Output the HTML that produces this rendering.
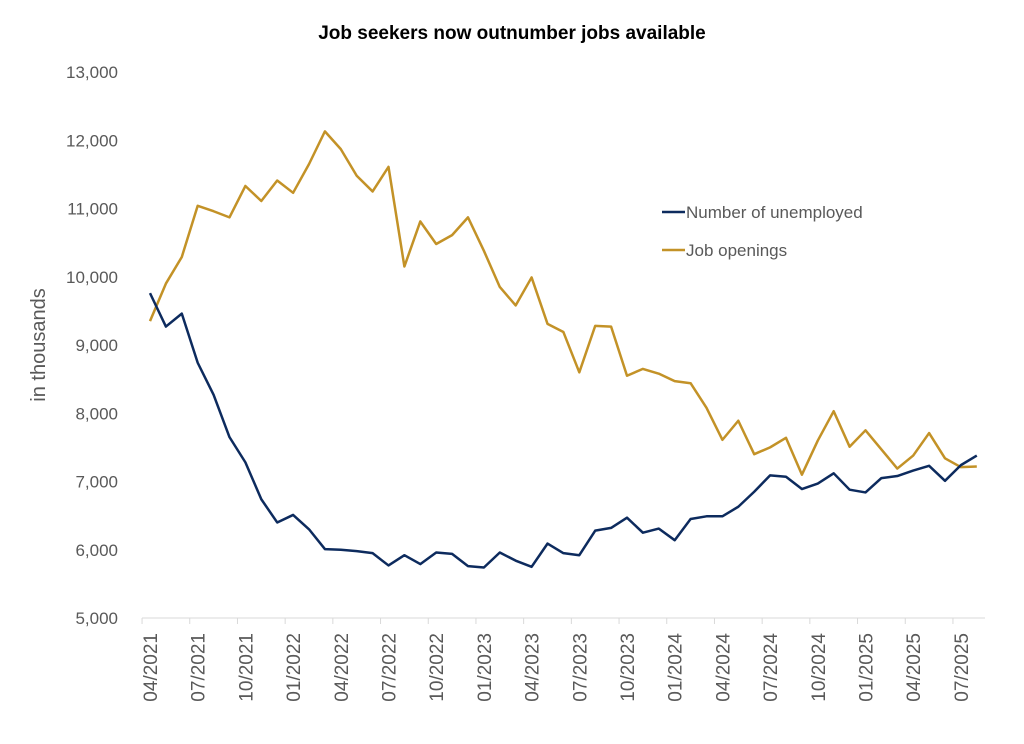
<!DOCTYPE html>
<html><head><meta charset="utf-8"><style>
body{margin:0;background:#fff;}
svg text{font-family:"Liberation Sans",Arial,sans-serif;}
</style></head><body>
<svg id="chart" width="1024" height="739">
<text x="512" y="39" text-anchor="middle" font-size="19" font-weight="bold" fill="#000">Job seekers now outnumber jobs available</text>
<text transform="translate(45,345) rotate(-90)" text-anchor="middle" font-size="20" fill="#595959">in thousands</text>
<g id="yaxis"></g>
<g id="xaxis"></g>
<g id="series"></g>
<g>
<line x1="662" y1="212" x2="685" y2="212" stroke="#0d2b5e" stroke-width="2.5"/>
<text x="686" y="218" font-size="17" fill="#595959">Number of unemployed</text>
<line x1="662" y1="250" x2="685" y2="250" stroke="#c39227" stroke-width="2.5"/>
<text x="686" y="256" font-size="17" fill="#595959">Job openings</text>
</g>
</svg>
<script>
const months = [];
const startYear = 2021, startMonth = 4, nPoints = 53;
const unemployed = [9760,9270,9460,8740,8270,7650,7280,6740,6400,6510,6300,6010,6000,5980,5950,5770,5920,5790,5960,5940,5760,5740,5960,5840,5750,6090,5950,5920,6280,6320,6470,6250,6310,6140,6450,6490,6490,6630,6850,7090,7070,6890,6970,7120,6880,6840,7050,7080,7160,7230,7010,7240,7380];
const openings = [9350,9900,10290,11040,10960,10870,11330,11110,11410,11230,11650,12130,11870,11480,11250,11610,10150,10810,10480,10610,10870,10380,9850,9580,9990,9310,9190,8600,9280,9270,8550,8650,8580,8470,8440,8080,7610,7890,7400,7500,7640,7100,7600,8030,7510,7750,7470,7190,7380,7710,7340,7210,7220];
const yTicks = [5000,6000,7000,8000,9000,10000,11000,12000,13000];
for(let i=0;i<nPoints;i++){const m=(startMonth-1+i)%12+1, y=startYear+Math.floor((startMonth-1+i)/12);months.push(String(m).padStart(2,'0')+'/'+y);}
const NS='http://www.w3.org/2000/svg';
const x0=150, dx=15.9, yBase=618, yTop=72, yMin=5000, yMax=13000;
const xs=i=>x0+i*dx;
const ys=v=>yBase-(v-yMin)/(yMax-yMin)*(yBase-yTop);
function mk(t,a,p){const e=document.createElementNS(NS,t);for(const k in a)e.setAttribute(k,a[k]);p.appendChild(e);return e;}
const ya=document.getElementById('yaxis');
yTicks.forEach(v=>{const t=mk('text',{x:118,y:ys(v)+6,'text-anchor':'end','font-size':17,fill:'#595959'},ya);t.textContent=v.toLocaleString('en-US');

});
const xa=document.getElementById('xaxis');
const ax=mk('line',{x1:142,y1:yBase,x2:985,y2:yBase,stroke:'#d9d9d9','stroke-width':1},xa);


months.forEach((m,i)=>{if(i%3!==0)return;
const tk=mk('line',{x1:xs(i)-dx/2,y1:yBase,x2:xs(i)-dx/2,y2:yBase+6,stroke:'#d9d9d9'},xa);


const t=mk('text',{transform:`translate(${xs(i)+7},633) rotate(-90)`,'text-anchor':'end','font-size':19,fill:'#595959'},xa);t.textContent=m;

});
const sg=document.getElementById('series');
function line(data,color,name){const p=mk('polyline',{points:data.map((v,i)=>xs(i)+','+ys(v)).join(' '),fill:'none',stroke:color,'stroke-width':2.5,'stroke-linejoin':'round'},sg);

}
line(openings,'#c39227','line-job-openings');
line(unemployed,'#0d2b5e','line-unemployed');
</script>
</body></html>
